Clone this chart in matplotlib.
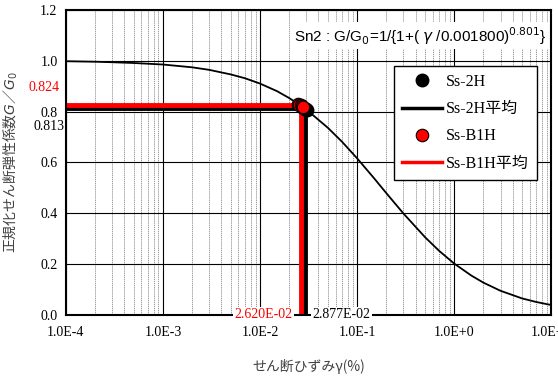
import matplotlib
matplotlib.use("Agg")
import matplotlib.pyplot as plt
from matplotlib.lines import Line2D

plt.rcParams['font.family'] = ['Liberation Serif', 'Noto Sans CJK JP']

# curve values (shear strain in %, G/G0)
curve_x = [1e-4, 2e-4, 3e-4, 5e-4, 1e-3, 2e-3, 3e-3, 5e-3, 7e-3, 1e-2, 1.5e-2, 2e-2, 3e-2, 5e-2, 7e-2,
           0.1, 0.15, 0.2, 0.3, 0.5, 0.7, 1, 1.5, 2, 3, 5, 7, 10]
curve_y = [0.998, 0.996, 0.994, 0.991, 0.985, 0.974, 0.964, 0.946, 0.931, 0.910, 0.880, 0.853, 0.808, 0.736, 0.681,
           0.616, 0.537, 0.479, 0.399, 0.306, 0.252, 0.202, 0.155, 0.127, 0.095, 0.065, 0.051, 0.039]

# Ss-2H points and mean
ss2h_x = [0.0272, 0.0281, 0.0290, 0.0298, 0.0304]
ss2h_y = [0.819, 0.815, 0.812, 0.810, 0.808]
ss2h_mean_x = 2.877e-02
ss2h_mean_y = 0.813

# Ss-B1H points and mean
ssb1h_x = [0.0248, 0.0255, 0.0262, 0.0268, 0.0275]
ssb1h_y = [0.829, 0.826, 0.824, 0.821, 0.818]
ssb1h_mean_x = 2.620e-02
ssb1h_mean_y = 0.824

xticks = [1e-4, 1e-3, 1e-2, 1e-1, 1e0, 1e1]
xticklabels = ['1.0E-4', '1.0E-3', '1.0E-2', '1.0E-1', '1.0E+0', '1.0E+1']
yticks = [0.0, 0.2, 0.4, 0.6, 0.8, 1.0, 1.2]

fig = plt.figure(figsize=(5.58, 3.79), dpi=100)
ax = fig.add_axes([0.118, 0.169, 0.870, 0.805])

ax.set_xscale('log')
ax.set_xlim(1e-4, 10)
ax.set_ylim(0, 1.2)

# grid
ax.grid(which='major', axis='both', color='black', linewidth=0.8)
ax.grid(which='minor', axis='x', color='#888888', linewidth=0.6, linestyle=(0, (1.5, 1)))
ax.set_axisbelow(True)

ax.set_xticks(xticks)
ax.set_xticklabels(xticklabels)
ax.set_yticks(yticks)
ax.set_yticklabels(['%.1f' % v for v in yticks])
ax.tick_params(which='both', length=0, labelsize=10, pad=8)
ax.tick_params(axis='y', pad=6)
for s in ax.spines.values():
    s.set_linewidth(1.5)

# mean lines
ax.plot([1e-4, ss2h_mean_x], [ss2h_mean_y, ss2h_mean_y], color='black', lw=3.5, solid_capstyle='butt')
ax.plot([ss2h_mean_x, ss2h_mean_x], [0, ss2h_mean_y], color='black', lw=3.5, solid_capstyle='butt')
ax.plot([1e-4, ssb1h_mean_x], [ssb1h_mean_y, ssb1h_mean_y], color='red', lw=3.5, solid_capstyle='butt')
ax.plot([ssb1h_mean_x, ssb1h_mean_x], [0, ssb1h_mean_y], color='red', lw=3.5, solid_capstyle='butt')

# curve
ax.plot(curve_x, curve_y, color='black', lw=1.3)

# points
ax.plot(ss2h_x, ss2h_y, 'o', color='black', ms=9, zorder=5)
ax.plot(ssb1h_x, ssb1h_y, 'o', mfc='red', mec='black', mew=0.8, ms=9, zorder=6)

# value labels
ax.text(-0.012, 0.894, '%.3f' % ssb1h_mean_y, color='red', fontsize=10, ha='right', va='center',
        transform=ax.get_yaxis_transform())
ax.text(-0.003, 0.742, '%.3f' % ss2h_mean_y, color='black', fontsize=10, ha='right', va='center',
        transform=ax.get_yaxis_transform())
ax.text(0.0217, 0.0, '%.3E' % ssb1h_mean_x, color='red', fontsize=10, ha='right', va='center',
        transform=ax.get_xaxis_transform(), bbox=dict(fc='white', ec='none', pad=1), clip_on=False, zorder=10)
ax.text(0.0345, 0.0, '%.3E' % ss2h_mean_x, color='black', fontsize=10, ha='left', va='center',
        transform=ax.get_xaxis_transform(), bbox=dict(fc='white', ec='none', pad=1), clip_on=False, zorder=10)

# formula
ax.text(0.99, 0.915, r'Sn2 : G/G$_0$=1/{1+( $\gamma$ /0.001800)$^{0.801}$}', family='Liberation Sans',
        fontsize=11, ha='right', va='center', transform=ax.transAxes,
        bbox=dict(fc='white', ec='none', pad=2), zorder=10)

# labels
ax.set_xlabel('せん断ひずみγ(%)', color='#404040', fontsize=10, labelpad=14,
              family=['Noto Sans CJK JP', 'DejaVu Sans'])
ax.set_ylabel('正規化せん断弾性係数$G$／$G_0$', color='#404040', fontsize=10,
              family=['Noto Sans CJK JP', 'DejaVu Sans'])
ax.yaxis.set_label_coords(-0.095, 0.5)

handles = [
    Line2D([], [], ls='none', marker='o', color='black', ms=9),
    Line2D([], [], color='black', lw=2.5),
    Line2D([], [], ls='none', marker='o', mfc='red', mec='black', mew=0.8, ms=9),
    Line2D([], [], color='red', lw=2.5),
]
leg = ax.legend(handles, ['Ss-2H', 'Ss-2H平均', 'Ss-B1H', 'Ss-B1H平均'], loc='upper right',
                bbox_to_anchor=(0.971, 0.816), fontsize=11.5, frameon=True, fancybox=False,
                edgecolor='black', framealpha=1, labelspacing=0.7, handlelength=2.5,
                handletextpad=0.3, borderpad=0.5, borderaxespad=0)
leg.get_frame().set_linewidth(1.0)

fig.savefig('out.png', dpi=100)
